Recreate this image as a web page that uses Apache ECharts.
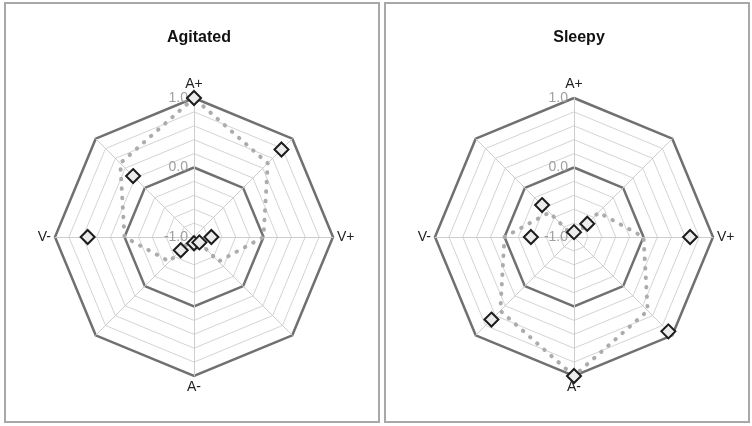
<!DOCTYPE html>
<html>
<head>
<meta charset="utf-8">
<script src="https://cdn.jsdelivr.net/npm/echarts@6/dist/echarts.min.js"></script>
<style>
  html, body { margin: 0; padding: 0; background: #fff; }
  #chart { width: 752px; height: 426px; }
</style>
</head>
<body>
<div id="chart"></div>
<script>
// Axes in the order the radar lays them out (counter-clockwise from the top)
const axisNames = ['A+', '', 'V-', '', 'A-', '', 'V+', ''];

// Measured scores (diamonds) and reference profile (dotted line), same axis order
const agitatedScores = [1.0, 0.24, 0.53, -0.73, -0.91, -0.89, -0.75, 0.78];
const agitatedProfile = [1.0, 0.5, 0.0, -0.5, -1.0, -0.5, 0.0, 0.5];
const sleepyScores = [-0.93, -0.35, -0.38, 0.68, 1.0, 0.92, 0.67, -0.73];
const sleepyProfile = [-1.0, -0.5, 0.0, 0.5, 1.0, 0.5, 0.0, -0.5];

const panelTitles = ['Agitated', 'Sleepy'];
const scaleMin = -1, scaleMax = 1;

const centers = [[194, 237], [574, 237]];
const radius = 139;

function indicators(withLabels) {
  return axisNames.map((n, i) => ({
    name: n, min: scaleMin, max: scaleMax,
    axisLabel: { show: withLabels && i === 0 }
  }));
}

function minorRadar(center) {
  return {
    center: center, radius: radius, shape: 'polygon', startAngle: 90,
    splitNumber: 10,
    indicator: indicators(false),
    axisName: { show: false },
    splitArea: { show: false },
    splitLine: { lineStyle: { color: '#d4d4d4', width: 1 } },
    axisLine: { lineStyle: { color: '#cdcdcd', width: 1 } },
    axisTick: { show: false },
    axisLabel: { show: false }
  };
}

function majorRadar(center) {
  return {
    center: center, radius: radius, shape: 'polygon', startAngle: 90,
    splitNumber: 2,
    indicator: indicators(true),
    nameGap: 4,
    axisName: { color: '#222', fontSize: 14, fontFamily: 'Liberation Sans, Arial, sans-serif' },
    splitArea: { show: false },
    splitLine: { lineStyle: { color: '#707070', width: 2.5 } },
    axisLine: { show: false },
    axisTick: { show: false },
    axisLabel: {
      show: true, color: '#a0a0a0', fontSize: 14, margin: 6,
      fontFamily: 'Liberation Sans, Arial, sans-serif',
      formatter: v => Number(v).toFixed(1)
    }
  };
}

const diamond = 'path://M0,-10L10,0L0,10L-10,0Z';

function profileSeries(radarIndex, values) {
  return {
    type: 'radar', radarIndex: radarIndex, silent: true, z: 3,
    symbol: 'none',
    lineStyle: { color: '#acacac', width: 4, type: [0.5, 9], cap: 'round' },
    data: [{ value: values }]
  };
}

function scoreSeries(radarIndex, values) {
  return {
    type: 'radar', radarIndex: radarIndex, silent: true, z: 4,
    symbol: diamond, symbolSize: 14,
    lineStyle: { width: 0, opacity: 0 },
    itemStyle: { color: '#ececec', borderColor: '#1c1c1c', borderWidth: 2 },
    data: [{ value: values }]
  };
}

const chart = echarts.init(document.getElementById('chart'), null, { renderer: 'canvas' });
chart.setOption({
  backgroundColor: '#ffffff',
  animation: false,
  title: panelTitles.map((t, i) => ({
    text: t, left: centers[i][0], top: 25, textAlign: 'center',
    textStyle: { fontSize: 16, fontWeight: 'bold', color: '#111', fontFamily: 'Liberation Sans, Arial, sans-serif' }
  })),
  graphic: [
    { type: 'rect', shape: { x: 5, y: 3, width: 374, height: 419 }, style: { fill: 'none', stroke: '#a8a8a8', lineWidth: 2 } },
    { type: 'rect', shape: { x: 385, y: 3, width: 364, height: 419 }, style: { fill: 'none', stroke: '#a8a8a8', lineWidth: 2 } }
  ],
  radar: [
    minorRadar(centers[0]), majorRadar(centers[0]),
    minorRadar(centers[1]), majorRadar(centers[1])
  ],
  series: [
    profileSeries(1, agitatedProfile), scoreSeries(1, agitatedScores),
    profileSeries(3, sleepyProfile), scoreSeries(3, sleepyScores)
  ]
});
</script>
</body>
</html>
